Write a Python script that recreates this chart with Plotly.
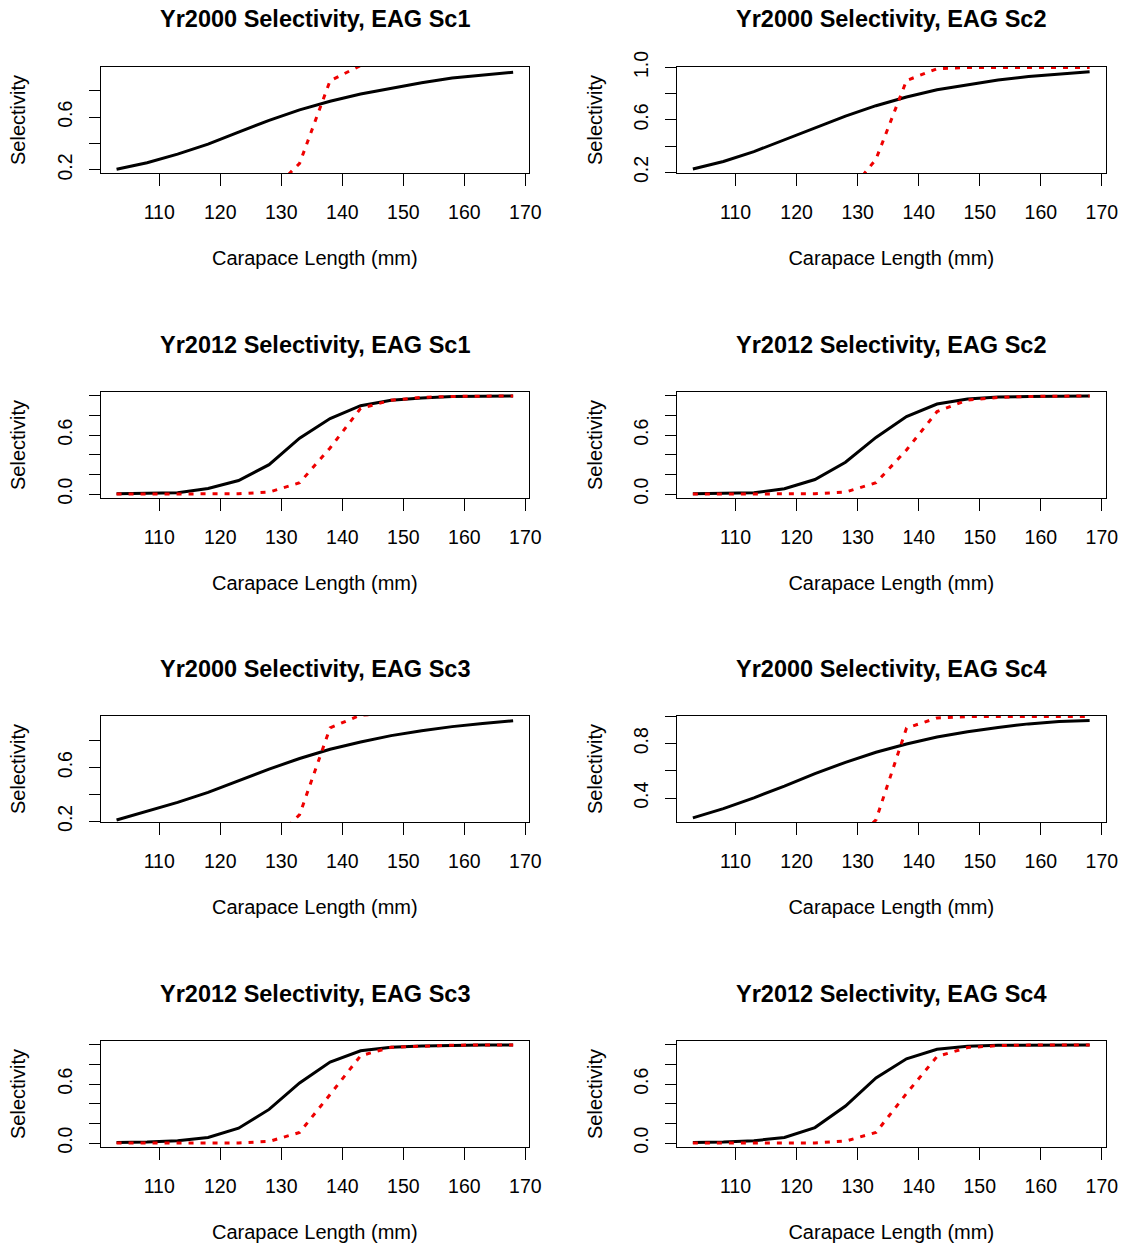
import plotly.graph_objects as go

# Carapace length bins (mm)
length_mm = [103, 108, 113, 118, 123, 128, 133, 138, 143, 148, 153, 158, 163, 168]

# Panel titles, in reading order (row by row, left then right)
panel_titles = [
    "Yr2000 Selectivity, EAG Sc1", "Yr2000 Selectivity, EAG Sc2",
    "Yr2012 Selectivity, EAG Sc1", "Yr2012 Selectivity, EAG Sc2",
    "Yr2000 Selectivity, EAG Sc3", "Yr2000 Selectivity, EAG Sc4",
    "Yr2012 Selectivity, EAG Sc3", "Yr2012 Selectivity, EAG Sc4",
]

# Fishery selectivity (solid black line)
sel_2000_sc1 = [0.205, 0.255, 0.320, 0.395, 0.487, 0.575, 0.655, 0.720, 0.775, 0.820, 0.860, 0.895, 0.920, 0.940]
sel_2000_sc2 = [0.225, 0.283, 0.358, 0.447, 0.540, 0.628, 0.708, 0.774, 0.829, 0.869, 0.904, 0.930, 0.950, 0.967]
sel_2012_sc1 = [0.003, 0.005, 0.013, 0.057, 0.138, 0.300, 0.570, 0.770, 0.900, 0.956, 0.980, 0.993, 0.997, 0.999]
sel_2012_sc2 = [0.003, 0.005, 0.013, 0.054, 0.148, 0.324, 0.577, 0.790, 0.917, 0.968, 0.988, 0.995, 0.998, 0.999]
sel_2000_sc3 = [0.210, 0.274, 0.341, 0.415, 0.500, 0.588, 0.667, 0.736, 0.790, 0.837, 0.874, 0.904, 0.928, 0.948]
sel_2000_sc4 = [0.254, 0.322, 0.402, 0.488, 0.580, 0.663, 0.737, 0.798, 0.849, 0.888, 0.920, 0.946, 0.963, 0.970]
sel_2012_sc3 = [0.007, 0.010, 0.024, 0.057, 0.152, 0.343, 0.613, 0.825, 0.940, 0.976, 0.990, 0.997, 0.999, 1.000]
sel_2012_sc4 = [0.007, 0.010, 0.024, 0.057, 0.158, 0.377, 0.663, 0.859, 0.956, 0.987, 0.997, 0.999, 1.000, 1.000]

# Survey / alternative selectivity (dotted red line)
alt_2000_sc1 = [0.000, 0.000, 0.000, 0.000, 0.001, 0.020, 0.250, 0.875, 0.990, 1.000, 1.000, 1.000, 1.000, 1.000]
alt_2000_sc2 = [0.000, 0.000, 0.000, 0.000, 0.001, 0.015, 0.300, 0.900, 0.990, 1.000, 1.000, 1.000, 1.000, 1.000]
alt_2012_sc1 = [0.000, 0.000, 0.000, 0.000, 0.003, 0.020, 0.115, 0.470, 0.873, 0.956, 0.985, 0.995, 1.000, 1.000]
alt_2012_sc2 = [0.000, 0.000, 0.000, 0.000, 0.003, 0.020, 0.115, 0.450, 0.840, 0.958, 0.985, 0.995, 1.000, 1.000]
alt_2000_sc3 = [0.000, 0.000, 0.000, 0.000, 0.001, 0.020, 0.250, 0.895, 0.990, 1.000, 1.000, 1.000, 1.000, 1.000]
alt_2000_sc4 = [0.000, 0.000, 0.000, 0.000, 0.001, 0.010, 0.240, 0.915, 0.990, 1.000, 1.000, 1.000, 1.000, 1.000]
alt_2012_sc3 = [0.000, 0.000, 0.000, 0.000, 0.002, 0.017, 0.108, 0.495, 0.890, 0.976, 0.990, 0.997, 1.000, 1.000]
alt_2012_sc4 = [0.000, 0.000, 0.000, 0.000, 0.002, 0.020, 0.108, 0.505, 0.882, 0.973, 0.993, 0.998, 1.000, 1.000]

black_series = [sel_2000_sc1, sel_2000_sc2, sel_2012_sc1, sel_2012_sc2,
                sel_2000_sc3, sel_2000_sc4, sel_2012_sc3, sel_2012_sc4]
red_series = [alt_2000_sc1, alt_2000_sc2, alt_2012_sc1, alt_2012_sc2,
              alt_2000_sc3, alt_2000_sc4, alt_2012_sc3, alt_2012_sc4]

# y-axis ticks and which of them carry a label
y_ticks = [
    ([0.2, 0.4, 0.6, 0.8], ["0.2", "", "0.6", ""]),
    ([0.2, 0.4, 0.6, 0.8, 1.0], ["0.2", "", "0.6", "", "1.0"]),
    ([0.0, 0.2, 0.4, 0.6, 0.8, 1.0], ["0.0", "", "", "0.6", "", ""]),
    ([0.0, 0.2, 0.4, 0.6, 0.8, 1.0], ["0.0", "", "", "0.6", "", ""]),
    ([0.2, 0.4, 0.6, 0.8], ["0.2", "", "0.6", ""]),
    ([0.4, 0.6, 0.8, 1.0], ["0.4", "", "0.8", ""]),
    ([0.0, 0.2, 0.4, 0.6, 0.8, 1.0], ["0.0", "", "", "0.6", "", ""]),
    ([0.0, 0.2, 0.4, 0.6, 0.8, 1.0], ["0.0", "", "", "0.6", "", ""]),
]
y_ranges = [
    [0.177, 0.979], [0.195, 1.003],
    [-0.04, 1.04], [-0.04, 1.04],
    [0.195, 0.983], [0.224, 1.004],
    [-0.04, 1.04], [-0.04, 1.04],
]
x_range = [100.4, 170.6]
x_ticks = [110, 120, 130, 140, 150, 160, 170]

W, H = 1127, 1247
FONT = "Liberation Sans, Arial, sans-serif"
col_px = [(100.7, 529), (677, 1105.5)]
row_px = [(67, 173), (392, 498), (716, 822), (1041, 1147)]

fig = go.Figure()
layout = dict(
    template="none", autosize=False,
    width=W, height=H, margin=dict(l=0, r=0, t=0, b=0, pad=0),
    paper_bgcolor="white", plot_bgcolor="white", showlegend=False,
    font=dict(family=FONT, color="black", size=19.5),
)
annotations = []

for i in range(8):
    r, c = divmod(i, 2)
    n = "" if i == 0 else str(i + 1)
    x0, x1 = col_px[c]
    top, bot = row_px[r]
    xd = [x0 / W, x1 / W]
    yd = [1 - bot / H, 1 - top / H]

    fig.add_trace(go.Scatter(x=length_mm, y=black_series[i], mode="lines",
                             line=dict(color="black", width=3),
                             xaxis="x" + n, yaxis="y" + n))
    fig.add_trace(go.Scatter(x=length_mm, y=red_series[i], mode="lines",
                             line=dict(color="#ee0000", width=3, dash="5px,7px"),
                             xaxis="x" + n, yaxis="y" + n))

    layout["xaxis" + n] = dict(
        domain=xd, anchor="y" + n, range=x_range, tickvals=x_ticks,
        automargin=False,
        showgrid=False, zeroline=False, showline=True, mirror=True,
        linecolor="black", linewidth=1.3, ticks="outside", ticklen=12,
        tickwidth=1.2, tickcolor="black", ticklabelstandoff=9,
        tickfont=dict(size=19.5),
        title=dict(text="Carapace Length (mm)", font=dict(size=20), standoff=29),
    )
    tv, tt = y_ticks[i]
    layout["yaxis" + n] = dict(
        domain=yd, anchor="x" + n, range=y_ranges[i], tickvals=tv, ticktext=tt,
        automargin=False,
        showgrid=False, zeroline=False, showline=True, mirror=True,
        linecolor="black", linewidth=1.3, ticks="outside", ticklen=11,
        tickwidth=1.2, tickcolor="black", tickangle=-90, ticklabelstandoff=9,
        tickfont=dict(size=19.5),
        title=dict(text="Selectivity", font=dict(size=20), standoff=22),
    )
    annotations.append(dict(
        text="<b>" + panel_titles[i] + "</b>", xref="paper", yref="paper",
        x=(xd[0] + xd[1]) / 2, y=1 - (top - 47.5) / H,
        xanchor="center", yanchor="middle", showarrow=False,
        font=dict(family=FONT, size=23.5, color="black"),
    ))

layout["annotations"] = annotations
fig.update_layout(**layout)
fig.write_html("out.html")
